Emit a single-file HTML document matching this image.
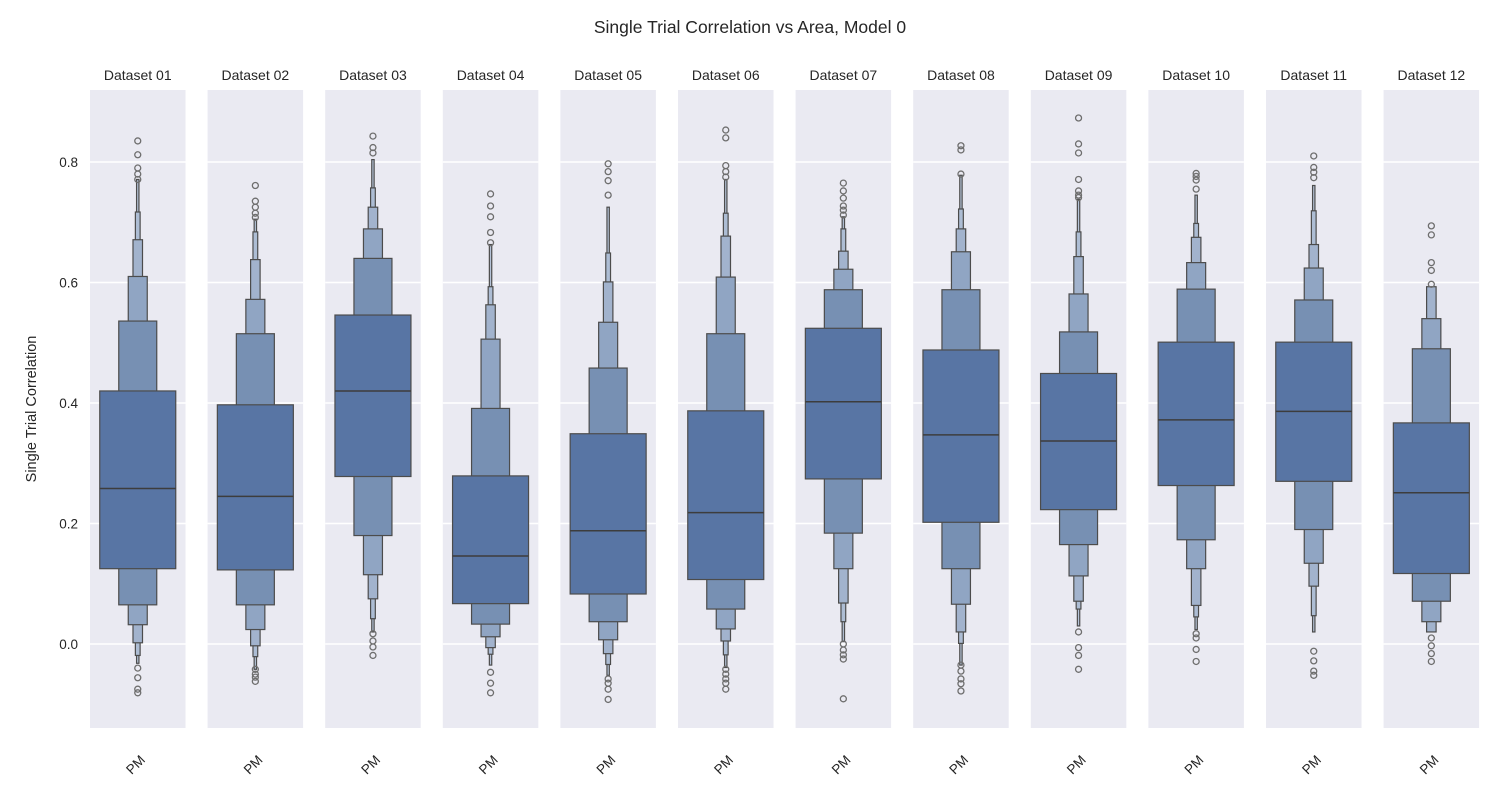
<!DOCTYPE html>
<html><head><meta charset="utf-8"><style>
body{margin:0;background:#fff;}
svg{display:block;font-family:"Liberation Sans","DejaVu Sans",sans-serif;}
</style></head><body>
<svg id="chart" width="1500" height="800" viewBox="0 0 1500 800" xmlns="http://www.w3.org/2000/svg">
<text x="750" y="33" text-anchor="middle" font-size="17.5" fill="#262626">Single Trial Correlation vs Area, Model 0</text>
<text transform="translate(36,409) rotate(-90)" text-anchor="middle" font-size="14.5" fill="#262626">Single Trial Correlation</text>
<g id="panels"></g>
</svg>
<script>
const datasets = ["Dataset 01","Dataset 02","Dataset 03","Dataset 04","Dataset 05","Dataset 06","Dataset 07","Dataset 08","Dataset 09","Dataset 10","Dataset 11","Dataset 12"];
const categoryLabel = "PM";
const yTicks = [0.0, 0.2, 0.4, 0.6, 0.8];
const medians = [0.258,0.245,0.42,0.146,0.188,0.218,0.402,0.347,0.337,0.372,0.386,0.251];
const lows = [
 [0.125,0.065,0.032,0.002,-0.019,-0.032],
 [0.123,0.065,0.024,-0.003,-0.021,-0.042],
 [0.278,0.18,0.115,0.075,0.042,0.02],
 [0.067,0.033,0.012,-0.006,-0.017,-0.035],
 [0.083,0.037,0.007,-0.016,-0.034,-0.052],
 [0.107,0.058,0.025,0.005,-0.018,-0.039],
 [0.274,0.184,0.125,0.068,0.037,0.004],
 [0.202,0.125,0.066,0.02,0.001,-0.035],
 [0.223,0.165,0.113,0.071,0.058,0.03],
 [0.263,0.173,0.125,0.064,0.045,0.024],
 [0.27,0.19,0.134,0.096,0.047,0.02],
 [0.117,0.071,0.037,0.02]
];
const highs = [
 [0.42,0.536,0.61,0.671,0.717,0.771],
 [0.397,0.515,0.572,0.638,0.684,0.705],
 [0.546,0.64,0.689,0.725,0.757,0.804],
 [0.279,0.391,0.506,0.563,0.593,0.663],
 [0.349,0.458,0.534,0.601,0.649,0.725],
 [0.387,0.515,0.609,0.677,0.715,0.771],
 [0.524,0.588,0.622,0.652,0.689,0.709],
 [0.488,0.588,0.651,0.689,0.722,0.778],
 [0.449,0.518,0.581,0.643,0.684,0.738],
 [0.501,0.589,0.633,0.675,0.698,0.745],
 [0.501,0.571,0.624,0.663,0.719,0.761],
 [0.367,0.49,0.54,0.593]
];
const outliers = [
 [0.835,0.812,0.79,0.78,0.771,-0.04,-0.056,-0.075,-0.081],
 [0.761,0.735,0.725,0.715,0.708,-0.042,-0.05,-0.055,-0.062],
 [0.843,0.824,0.815,0.017,0.005,-0.005,-0.019],
 [0.747,0.727,0.709,0.683,0.666,-0.047,-0.065,-0.081],
 [0.797,0.784,0.769,0.745,-0.058,-0.065,-0.075,-0.092],
 [0.853,0.84,0.794,0.784,0.775,-0.042,-0.05,-0.058,-0.065,-0.075],
 [0.765,0.752,0.74,0.727,0.72,0.712,0.0,-0.01,-0.018,-0.025,-0.091],
 [0.827,0.82,0.78,-0.035,-0.045,-0.058,-0.066,-0.078],
 [0.873,0.83,0.815,0.771,0.752,0.745,0.741,0.02,-0.006,-0.019,-0.042],
 [0.781,0.776,0.77,0.755,0.017,0.01,-0.009,-0.029],
 [0.81,0.791,0.783,0.774,-0.012,-0.028,-0.045,-0.052],
 [0.694,0.679,0.633,0.62,0.597,0.01,-0.003,-0.016,-0.029]
];
const NS="http://www.w3.org/2000/svg";
const plotTop=90, plotBot=728, y0px=644, pxPerUnit=602.5;
function yScale(v){return y0px - v*pxPerUnit;}
function panelX(i){return 90 + i*117.6;}
const panelW=95.5;
const levelColors=["#5875a4","#7790b3","#90a5c3","#a2b3cd","#adbdd4","#b5c3d8"];
function mk(tag, attrs, parent){const e=document.createElementNS(NS,tag);for(const k in attrs)e.setAttribute(k,attrs[k]);parent.appendChild(e);return e;}
const root=document.getElementById('panels');
datasets.forEach((name,i)=>{
  const x=panelX(i), cx=x+panelW/2;
  const g=mk('g',{},root);
  
  
  const bg=mk('rect',{x:x,y:plotTop,width:panelW,height:plotBot-plotTop,fill:'#eaeaf2'},g);
  
  
  yTicks.forEach(t=>{
    const gl=mk('line',{x1:x,x2:x+panelW,y1:yScale(t),y2:yScale(t),stroke:'#fff','stroke-width':1.5},g);
    
    
  });
  const tt=mk('text',{x:cx,y:80,'text-anchor':'middle','font-size':14,fill:'#262626'},g);
  tt.textContent=name;
  
  
  const lo=lows[i], hi=highs[i];
  for(let k=lo.length-1;k>=0;k--){
    const w=76/Math.pow(2,k);
    const r=mk('rect',{x:cx-w/2,y:yScale(hi[k]),width:w,height:yScale(lo[k])-yScale(hi[k]),fill:levelColors[k],stroke:'#4c4c4c','stroke-width':1.2},g);
    
    
  }
  const m=mk('line',{x1:cx-38,x2:cx+38,y1:yScale(medians[i]),y2:yScale(medians[i]),stroke:'#3d3d3d','stroke-width':1.5},g);
  
  
  outliers[i].forEach(v=>{
    const c=mk('circle',{cx:cx,cy:yScale(v),r:3,fill:'none',stroke:'#6e6e6e','stroke-width':1.3},g);
    
    
  });
  const xl=mk('text',{transform:`translate(${cx+1},${768}) rotate(-45)`,'text-anchor':'middle','font-size':13.5,fill:'#262626'},g);
  xl.textContent=categoryLabel;
  
  
});
yTicks.forEach(t=>{
  const tl=mk('text',{x:78,y:yScale(t)+5,'text-anchor':'end','font-size':13.5,fill:'#262626'},root);
  tl.textContent=t.toFixed(1);
  
  
});
</script>
</body></html>
